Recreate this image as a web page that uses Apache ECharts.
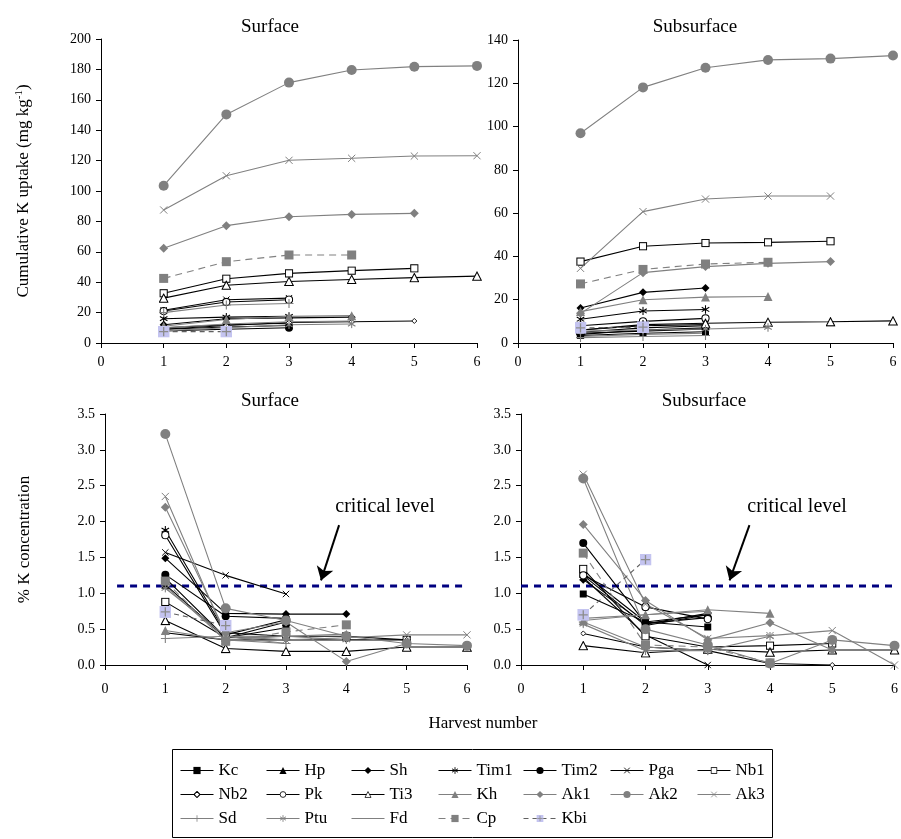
<!DOCTYPE html>
<html>
<head>
<meta charset="utf-8">
<script src="https://cdn.jsdelivr.net/npm/echarts@6/dist/echarts.min.js"></script>
<style>html,body{margin:0;padding:0;background:#fff;}#c{width:901px;height:839px;}</style>
</head>
<body>
<div id="c"></div>
<script>
// ---------- DATA ----------
const seriesNames = ['Kc','Hp','Sh','Tim1','Tim2','Pga','Nb1','Nb2','Pk','Ti3','Kh','Ak1','Ak2','Ak3','Sd','Ptu','Fd','Cp','Kbi'];
const xTicks = [0,1,2,3,4,5,6];
const uptakeTicksSurface = [0,20,40,60,80,100,120,140,160,180,200];
const uptakeTicksSubsurface = [0,20,40,60,80,100,120,140];
const concTicks = [0.0,0.5,1.0,1.5,2.0,2.5,3.0,3.5];
const criticalLevel = 1.1;

// Cumulative K uptake (mg kg-1), surface; values for harvest 1..n
const uptakeSurface = {
  Kc:[9,10.5,11.5], Hp:[10,12,13], Sh:[12,16,16.5,17], Tim1:[16,17,17.5], Tim2:[8,9,10],
  Pga:[21.5,28.5,29.5], Nb1:[32.7,42.3,45.8,47.6,49.1], Nb2:[9,11.5,13.5,14,14.5], Pk:[21,27,28.5],
  Ti3:[29.5,38,40.5,41.8,43,44], Kh:[11,15.5,17.5,18], Ak1:[62.3,77.2,83.1,84.6,85.3],
  Ak2:[103.5,150.4,171.3,179.6,181.8,182.3], Ak3:[87.5,110,120.2,121.5,123,123.2],
  Sd:[20,25,26], Ptu:[8,10,12,12.5], Fd:[10,12.5,14,14.5], Cp:[42.5,53.5,57.9,57.9], Kbi:[7.5,7.5]
};
// Cumulative K uptake (mg kg-1), subsurface
const uptakeSubsurface = {
  Kc:[3.5,4.5,5.2], Hp:[5,7,8], Sh:[16.2,23.4,25.4], Tim1:[11,14.8,15.5], Tim2:[4,6,7],
  Pga:[6,8,8.5], Nb1:[37.6,44.7,46.2,46.5,47], Nb2:[4.5,5.5,6.5], Pk:[8,10,11.4],
  Ti3:[6,8.5,9.1,9.6,9.8,10.2], Kh:[14.5,20,21.2,21.5], Ak1:[13.7,32.5,35.3,36.8,37.6],
  Ak2:[96.9,118.1,127.2,130.8,131.4,132.8], Ak3:[34.5,60.7,66.5,67.9,67.9],
  Sd:[2.5,3,3.5], Ptu:[5.5,6,6.5,7.2], Fd:[3,4,4.5], Cp:[27.3,34,36.5,37.3], Kbi:[7,7.3]
};
// % K concentration, surface
const concSurface = {
  Kc:[1.21,0.38,0.52], Hp:[1.12,0.38,0.6], Sh:[1.49,0.72,0.71,0.71], Tim1:[1.88,0.45,0.4], Tim2:[1.26,0.68,0.65],
  Pga:[1.57,1.25,0.99], Nb1:[0.88,0.38,0.4,0.4,0.35], Nb2:[0.45,0.35,0.35,0.35,0.35], Pk:[1.81,0.42,0.63],
  Ti3:[0.62,0.23,0.19,0.19,0.25,0.25], Kh:[0.48,0.35,0.4,0.43], Ak1:[2.2,0.45,0.6,0.05,0.3],
  Ak2:[3.22,0.79,0.62,0.4,0.3,0.27], Ak3:[2.35,0.4,0.35,0.38,0.42,0.42],
  Sd:[0.37,0.4,0.3], Ptu:[1.07,0.4,0.4,0.35], Fd:[1.1,0.35,0.3], Cp:[1.17,0.33,0.46,0.56], Kbi:[0.74,0.55]
};
// % K concentration, subsurface
const concSubsurface = {
  Kc:[0.99,0.6,0.53], Hp:[1.28,0.6,0.7], Sh:[1.19,0.57,0.72], Tim1:[1.25,0.55,0.7], Tim2:[1.7,0.58,0.66],
  Pga:[1.22,0.42,0.0], Nb1:[1.34,0.4,0.25,0.27,0.3], Nb2:[0.44,0.25,0.2,0.02,0.0], Pk:[1.25,0.81,0.64],
  Ti3:[0.27,0.17,0.22,0.18,0.21,0.21], Kh:[0.62,0.7,0.77,0.72], Ak1:[1.96,0.9,0.35,0.59,0.21],
  Ak2:[2.6,0.5,0.28,0.02,0.35,0.27], Ak3:[2.66,0.85,0.37,0.41,0.48,0.0],
  Sd:[0.6,0.25,0.2], Ptu:[0.57,0.2,0.2,0.4], Fd:[0.65,0.7,0.75], Cp:[1.56,0.28,0.25,0.03], Kbi:[0.7,1.47]
};

// ---------- STYLES ----------
const FONT = "'Liberation Serif','Times New Roman',serif";
const BLACK = '#000000', GRAY = '#808080';
function svgSym(inner){
  const svg = "<svg xmlns='http://www.w3.org/2000/svg' width='40' height='40' viewBox='0 0 10 10'>" + inner + "</svg>";
  return 'image://data:image/svg+xml;charset=utf-8,' + encodeURIComponent(svg);
}
const strokeAttr = (c,w) => " fill='none' stroke='" + c + "' stroke-width='" + w + "'";
const openAttr = (w) => " fill='#fff' stroke='#000' stroke-width='" + w + "'";
const SYM = {
  xBlack: svgSym("<path d='M1 1L9 9M9 1L1 9'" + strokeAttr('#000',1.2) + "/>"),
  xGray: svgSym("<path d='M1 1L9 9M9 1L1 9'" + strokeAttr('#808080',1.1) + "/>"),
  astBlack: svgSym("<path d='M0.8 2.6L9.2 7.4M0.8 7.4L9.2 2.6M5 0.3V9.7'" + strokeAttr('#000',1.2) + "/>"),
  astGray: svgSym("<path d='M0.8 2.6L9.2 7.4M0.8 7.4L9.2 2.6M5 0.3V9.7'" + strokeAttr('#808080',1.2) + "/>"),
  plusGray: svgSym("<path d='M5 0.5V9.5M0.5 5H9.5'" + strokeAttr('#808080',1.1) + "/>"),
  openRect: svgSym("<rect x='1' y='1' width='8' height='8'" + openAttr(1.15) + "/>"),
  openCircle: svgSym("<circle cx='5' cy='5' r='4'" + openAttr(1.15) + "/>"),
  openTri: svgSym("<path d='M5 0.9L9.3 9.1H0.7Z'" + openAttr(1.05) + "/>"),
  openDiamond: svgSym("<path d='M5 0.8L9.2 5L5 9.2L0.8 5Z'" + openAttr(1.5) + "/>"),
  kbi: svgSym("<rect width='10' height='10' fill='#c4c4f0'/><path d='M5 1.2V8.8M1.2 5H8.8'" + strokeAttr('#8c8c8c',1.1) + "/>"),
  blank: 'path://M0,0L10,10'
};

const styles = {
  Kc:{c:BLACK,s:'rect',z:7}, Hp:{c:BLACK,s:'triangle',z:8}, Sh:{c:BLACK,s:'diamond',z:8},
  Tim1:{c:BLACK,s:SYM.astBlack,z:9}, Tim2:{c:BLACK,s:'circle',z:8}, Pga:{c:BLACK,s:SYM.xBlack,z:8},
  Nb1:{c:BLACK,s:SYM.openRect,z:9}, Nb2:{c:BLACK,s:SYM.openDiamond,z:6}, Pk:{c:BLACK,s:SYM.openCircle,z:9},
  Ti3:{c:BLACK,s:SYM.openTri,z:10}, Kh:{c:GRAY,s:'triangle',z:9}, Ak1:{c:GRAY,s:'diamond',z:9},
  Ak2:{c:GRAY,s:'circle',z:10}, Ak3:{c:GRAY,s:SYM.xGray,z:9}, Sd:{c:GRAY,s:SYM.plusGray,z:10},
  Ptu:{c:GRAY,s:SYM.astGray,z:9}, Fd:{c:GRAY,s:SYM.blank,z:1,blank:true}, Cp:{c:GRAY,s:'rect',z:9,dash:[7,5]},
  Kbi:{c:'#606060',s:SYM.kbi,z:12,dash:[5,4]}
};

const panels = [uptakeSurface, uptakeSubsurface, concSurface, concSubsurface];
const series = [];
panels.forEach((panel, pi) => {
  seriesNames.forEach(name => {
    const st = styles[name];
    const vals = panel[name];
    series.push({
      name, type:'line', xAxisIndex:pi, yAxisIndex:pi,
      data: vals.map((v,i)=>[i+1, v]),
      symbol: st.s, symbolSize: st.z, showAllSymbol:true,
      itemStyle: { color: st.blank ? 'rgba(0,0,0,0)' : st.c, borderWidth: 0 },
      lineStyle: { color: st.c, width: 1.1, type: st.dash || 'solid' },
      emphasis: { disabled: true }, animation:false, clip:false
    });
  });
});

// critical level lines and arrows
const critL = [[0.2, criticalLevel],[6, criticalLevel]];
const critR = [[0, criticalLevel],[6, criticalLevel]];
function critSeries(idx, data, arrowFrom, arrowTo){
  return {
    name:'critical', type:'line', xAxisIndex:idx, yAxisIndex:idx, data, symbol:'none', z:1,
    lineStyle:{color:'#000080', width:3, type:[7,6]}, animation:false, silent:true,
    markLine:{ silent:true, animation:false, symbolSize:13, label:{show:false},
      lineStyle:{color:'#000', width:2, type:'solid'},
      data:[[{coord:arrowFrom, symbol:'none'},{coord:arrowTo, symbol:'arrow'}]] }
  };
}
series.push(critSeries(2, critL, [3.88,1.95],[3.58,1.18]));
series.push(critSeries(3, critR, [3.67,1.95],[3.35,1.18]));

// ---------- LAYOUT ----------
const grids = [
  {left:101, top:39, width:376, height:304},
  {left:518, top:40, width:375, height:303},
  {left:105, top:414, width:362, height:251},
  {left:521, top:414, width:380, height:251}
];
const axisCommon = {
  axisLine:{show:true, onZero:false, lineStyle:{color:'#000', width:1}},
  axisTick:{show:true, length:5, lineStyle:{color:'#000'}},
  splitLine:{show:false},
  axisLabel:{color:'#000', fontFamily:FONT, fontSize:14}
};
const xAxes = grids.map((g,i)=>Object.assign({}, axisCommon, {
  type:'value', gridIndex:i, min:xTicks[0], max:xTicks[xTicks.length-1], interval:1,
  axisLabel:Object.assign({}, axisCommon.axisLabel, {margin: i<2 ? 12 : 17})
}));
const yTickSets = [uptakeTicksSurface, uptakeTicksSubsurface, concTicks, concTicks];
const yAxes = yTickSets.map((t,i)=>Object.assign({}, axisCommon, {
  type:'value', gridIndex:i, min:t[0], max:t[t.length-1], interval:t[1]-t[0],
  axisLabel:Object.assign({}, axisCommon.axisLabel, {margin:10, formatter: i>=2 ? (v=>v.toFixed(1)) : (v=>String(v))})
}));
yAxes[0].name = '{n|Cumulative K uptake (mg kg}{s|-1}{n|)}';
yAxes[0].nameLocation = 'middle'; yAxes[0].nameGap = 67; yAxes[0].nameRotate = 90;
yAxes[0].nameTextStyle = {rich:{n:{fontFamily:FONT, fontSize:17, color:'#000', lineHeight:20}, s:{fontFamily:FONT, fontSize:11, color:'#000', verticalAlign:'top', lineHeight:20}}};
yAxes[2].name = '% K concentration';
yAxes[2].nameLocation = 'middle'; yAxes[2].nameGap = 72; yAxes[2].nameRotate = 90;
yAxes[2].nameTextStyle = {fontFamily:FONT, fontSize:17, color:'#000'};

const legendCols = [['Kc','Nb2','Sd'],['Hp','Pk','Ptu'],['Sh','Ti3','Fd'],['Tim1','Kh','Cp'],['Tim2','Ak1','Kbi'],['Pga','Ak2'],['Nb1','Ak3']];
const legendLefts = [180,266,351,438,523,610,697];
const legends = legendCols.map((d,i)=>({
  data:d, orient:'vertical', left:legendLefts[i], top:762, itemWidth:33, itemHeight:9, itemGap:7,
  padding:0, selectedMode:false, lineStyle:{width:1},
  textStyle:{fontFamily:FONT, fontSize:17, color:'#000'}
}));

function txt(x,y,text,size){
  return {type:'text', x, y, silent:true, style:{text, font:size+'px '+FONT, fill:'#000', textAlign:'center', textVerticalAlign:'middle'}};
}

const option = {
  backgroundColor:'#fff',
  animation:false,
  grid:grids,
  xAxis:xAxes,
  yAxis:yAxes,
  legend:legends,
  series,
  graphic:[
    txt(270,27,'Surface',19), txt(695,27,'Subsurface',19),
    txt(270,401,'Surface',19), txt(704,401,'Subsurface',19),
    txt(385,507,'critical level',20), txt(797,507,'critical level',20),
    txt(483,724,'Harvest number',17),
    {type:'rect', silent:true, shape:{x:172.5, y:749.5, width:600, height:88}, style:{fill:'none', stroke:'#000', lineWidth:1}}
  ]
};
const chart = echarts.init(document.getElementById('c'), null, {renderer:'canvas'});
chart.setOption(option);
</script>
</body>
</html>
